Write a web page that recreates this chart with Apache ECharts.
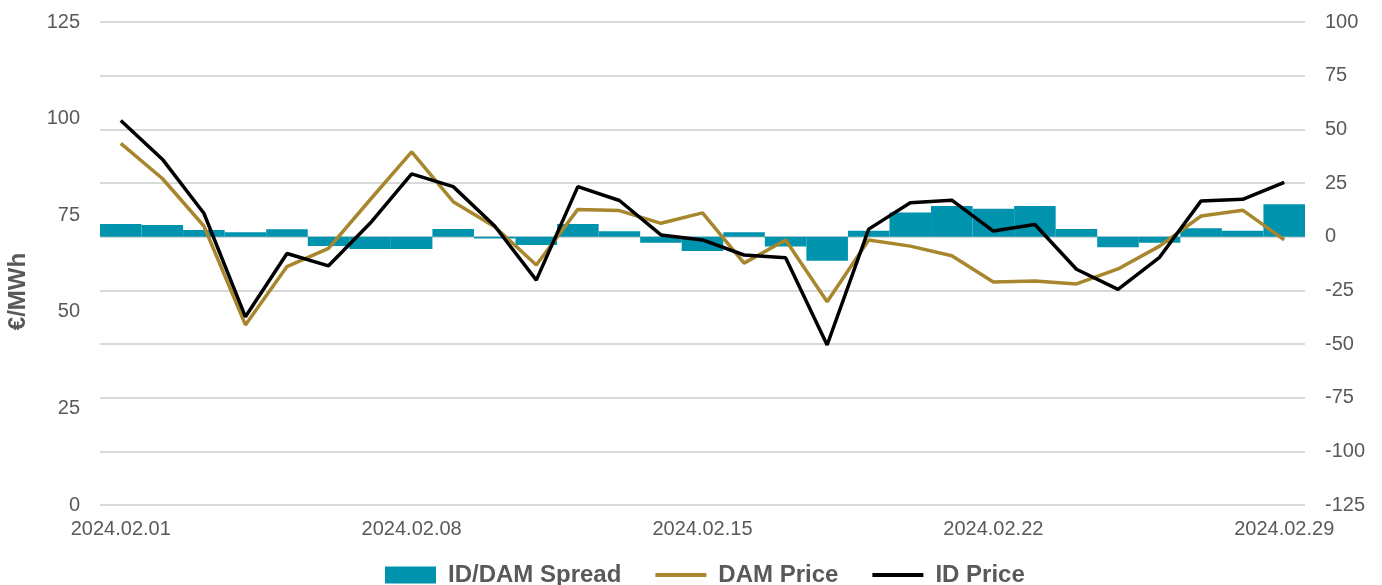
<!DOCTYPE html>
<html lang="en">
<head>
    <meta charset="UTF-8">
    <title>ID / DAM prices</title>
    <script src="https://cdn.jsdelivr.net/npm/echarts@6/dist/echarts.min.js"></script>
    <style>
        html, body { margin: 0; padding: 0; background: #fff; }
        #main { width: 1382px; height: 585px; }
    </style>
</head>
<body>
<div id="main"></div>
<script>
// days of February 2024
var days = [];
for (var d = 1; d <= 29; d++) {
    days.push('2024.02.' + (d < 10 ? '0' + d : d));
}

// €/MWh, left axis
var damPrice = [93.6, 84.5, 72.2, 46.6, 61.7, 66.4, 79.0, 91.4, 78.5, 72.0,
                62.1, 76.5, 76.2, 72.9, 75.6, 62.6, 68.6, 52.6, 68.6, 67.0,
                64.5, 57.7, 58.0, 57.2, 61.1, 67.0, 74.8, 76.3, 68.6];
var idPrice  = [99.5, 89.5, 75.5, 48.7, 65.1, 61.9, 72.9, 85.7, 82.4, 72.2,
                58.2, 82.4, 78.8, 69.9, 68.6, 64.7, 64.0, 41.4, 71.4, 78.2,
                78.9, 70.9, 72.6, 61.0, 55.8, 64.1, 78.7, 79.1, 83.5];
// right axis
var spread   = [5.9, 5.4, 3.1, 2.0, 3.4, -4.3, -5.7, -5.7, 3.6, -0.8,
                -3.9, 5.9, 2.5, -2.8, -6.7, 2.0, -4.6, -11.2, 2.8, 11.2,
                14.3, 13.0, 14.3, 3.6, -4.9, -2.8, 3.9, 2.7, 15.1];

var textColor = '#595959';
var font = 'Liberation Sans, Arial, sans-serif';

var myChart = echarts.init(document.getElementById('main'));
var option = {
    animation: false,
    textStyle: { fontFamily: font },
    grid: { left: 100, right: 77, top: 22, bottom: 80, outerBoundsMode: 'none', containLabel: false },
    legend: {
        bottom: -7,
        left: 380,
        itemWidth: 51,
        itemHeight: 17,
        itemGap: 32,
        textStyle: { color: textColor, fontSize: 24, fontWeight: 'bold', padding: [0, 0, 0, 7] },
        data: [
            { name: 'ID/DAM Spread', icon: 'rect' },
            { name: 'DAM Price', itemStyle: { opacity: 0 }, lineStyle: { width: 4 } },
            { name: 'ID Price', itemStyle: { opacity: 0 }, lineStyle: { width: 4 } }
        ]
    },
    xAxis: {
        type: 'category',
        data: days,
        boundaryGap: true,
        axisLine: { show: false },
        axisTick: { show: false },
        axisLabel: { interval: 6, color: textColor, fontSize: 20, margin: 14 }
    },
    yAxis: [
        {
            type: 'value',
            position: 'left',
            min: 0, max: 125, interval: 25,
            name: '€/MWh',
            nameLocation: 'middle',
            nameGap: 70,
            nameTextStyle: { color: textColor, fontSize: 24, fontWeight: 'bold', padding: [0, 56, 0, 0] },
            splitLine: { show: false },
            axisLine: { show: false },
            axisTick: { show: false },
            axisLabel: { color: textColor, fontSize: 20, margin: 20 }
        },
        {
            type: 'value',
            position: 'right',
            min: -125, max: 100, interval: 25,
            splitLine: { show: true, lineStyle: { color: '#d9d9d9', width: 2 } },
            axisLine: { show: false },
            axisTick: { show: false },
            axisLabel: { color: textColor, fontSize: 20, margin: 20 }
        }
    ],
    series: [
        {
            name: 'ID/DAM Spread',
            type: 'bar',
            yAxisIndex: 1,
            data: spread,
            barWidth: '100%',
            barCategoryGap: 0,
            itemStyle: { color: '#0093AE' }
        },
        {
            name: 'DAM Price',
            type: 'line',
            yAxisIndex: 0,
            data: damPrice,
            symbol: 'none',
            lineStyle: { color: '#A8862D', width: 3.5 },
            itemStyle: { color: '#A8862D' }
        },
        {
            name: 'ID Price',
            type: 'line',
            yAxisIndex: 0,
            data: idPrice,
            symbol: 'none',
            lineStyle: { color: '#000000', width: 3.5 },
            itemStyle: { color: '#000000' }
        }
    ]
};
myChart.setOption(option);
</script>
</body>
</html>
